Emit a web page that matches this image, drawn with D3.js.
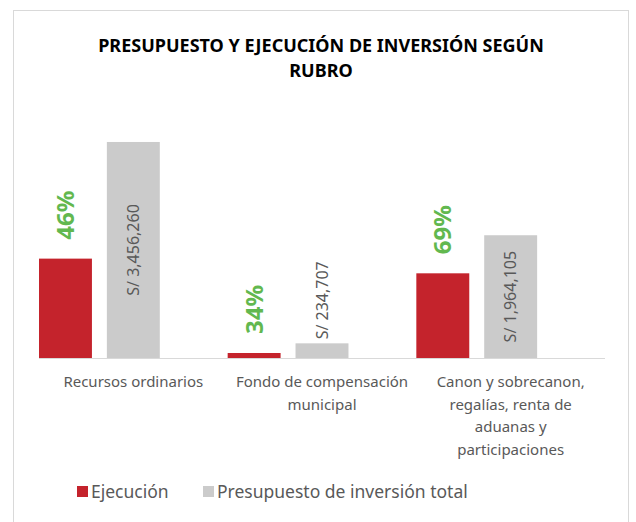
<!DOCTYPE html>
<html>
<head>
<meta charset="utf-8">
<script src="https://cdn.jsdelivr.net/npm/d3@7"></script>
<style>
    body { margin: 0; background: #fff; }
    svg text { font-family: "Noto Sans", sans-serif; }
</style>
</head>
<body>
<div class="main_content"></div>
<script>
// Chart data
let categories = [
    ['Recursos ordinarios'],
    ['Fondo de compensación', 'municipal'],
    ['Canon y sobrecanon,', 'regalías, renta de', 'aduanas y', 'participaciones']
];
let ejecucion = [1590000, 80000, 1355000];
let presupuesto = [3456260, 234707, 1964105];
let percentLabels = ['46%', '34%', '69%'];
let seriesNames = ['Ejecución', 'Presupuesto de inversión total'];
let seriesColors = ['#c4232c', '#cbcbcb'];

let width = 636, height = 522;
let margin = {top: 108, bottom: 164, left: 39, right: 31};

let svg = d3.select('.main_content').append('svg')
    .attr('width', width)
    .attr('height', height);

// Chart border
svg.append('rect')
    .attr('x', 13.5).attr('y', 10.5)
    .attr('width', 615).attr('height', 540)
    .attr('fill', 'none')
    .attr('stroke', '#d9d9d9');

// Title
let title = svg.append('text')
    .attr('text-anchor', 'middle')
    .style('font-size', '18px')
    .style('font-weight', 'bold')
    .attr('fill', '#000');
['PRESUPUESTO Y EJECUCIÓN DE INVERSIÓN SEGÚN', 'RUBRO'].forEach((t, i) => {
    title.append('tspan').attr('x', 321).attr('y', 52 + i * 25).text(t);
});

let catKeys = categories.map((d, i) => i);

let xScale = d3.scaleBand()
    .domain(catKeys)
    .range([margin.left, width - margin.right])
    .padding(0);

// third slot is empty (percent series)
let slotScale = d3.scaleBand()
    .domain([0, 1, 2])
    .range([0, xScale.bandwidth()])
    .paddingInner(0.22)
    .paddingOuter(0);

let yScale = d3.scaleLinear()
    .domain([0, 4000000])
    .range([height - margin.bottom, margin.top]);

let rows = catKeys.map(i => ({i: i, values: [ejecucion[i], presupuesto[i]]}));

let groups = svg.selectAll('g.cat')
    .data(rows)
    .enter().append('g')
    .attr('class', 'cat')
    .attr('transform', d => 'translate(' + xScale(d.i) + ',0)');

groups.selectAll('rect')
    .data(d => d.values)
    .enter().append('rect')
    .attr('x', (d, j) => slotScale(j))
    .attr('y', d => yScale(d))
    .attr('width', slotScale.bandwidth())
    .attr('height', d => yScale(0) - yScale(d))
    .attr('fill', (d, j) => seriesColors[j]);

// Percent labels above execution bars
groups.append('text')
    .attr('transform', d => {
        let x = slotScale(0) + slotScale.bandwidth() / 2;
        let y = yScale(ejecucion[d.i]) - 19;
        return 'translate(' + x + ',' + y + ') rotate(-90)';
    })
    .attr('dy', '0.35em')
    .attr('text-anchor', 'start')
    .style('font-size', '24px')
    .style('font-weight', 'bold')
    .attr('fill', '#62b84f')
    .text(d => percentLabels[d.i]);

// Budget labels (centered in bar, above it when the bar is too short)
let fmt = d3.format(',');
groups.append('text')
    .attr('dy', '0.35em')
    .style('font-size', '16px')
    .attr('fill', '#595959')
    .text(d => 'S/ ' + fmt(presupuesto[d.i]))
    .each(function (d) {
        let len = this.getComputedTextLength();
        let x = slotScale(1) + slotScale.bandwidth() / 2;
        let barH = yScale(0) - yScale(presupuesto[d.i]);
        let y, anchor;
        if (barH > len + 10) {
            y = (yScale(0) + yScale(presupuesto[d.i])) / 2;
            anchor = 'middle';
        } else {
            y = yScale(presupuesto[d.i]) - 4;
            anchor = 'start';
        }
        d3.select(this)
            .attr('text-anchor', anchor)
            .attr('transform', 'translate(' + x + ',' + y + ') rotate(-90)');
    });

// Axis line
svg.append('line')
    .attr('x1', margin.left).attr('x2', width - margin.right)
    .attr('y1', yScale(0) + 0.5).attr('y2', yScale(0) + 0.5)
    .attr('stroke', '#d9d9d9');

// Category labels
let catLabels = svg.selectAll('text.cat-label')
    .data(catKeys)
    .enter().append('text')
    .attr('class', 'cat-label')
    .attr('text-anchor', 'middle')
    .style('font-size', '15px')
    .attr('fill', '#595959');
catLabels.each(function (i) {
    let el = d3.select(this);
    categories[i].forEach((line, k) => {
        el.append('tspan')
            .attr('x', xScale(i) + xScale.bandwidth() / 2)
            .attr('y', yScale(0) + 29 + k * 22.6)
            .text(line);
    });
});

// Legend
let legendX = [77, 203];
let legend = svg.selectAll('g.legend')
    .data(seriesNames)
    .enter().append('g')
    .attr('class', 'legend')
    .attr('transform', (d, i) => 'translate(' + legendX[i] + ',486)');
legend.append('rect')
    .attr('width', 11).attr('height', 11)
    .attr('fill', (d, i) => seriesColors[i]);
legend.append('text')
    .attr('x', 14).attr('y', 6)
    .attr('dy', '0.35em')
    .style('font-size', '17.5px')
    .attr('fill', '#595959')
    .text(d => d);
</script>
</body>
</html>
